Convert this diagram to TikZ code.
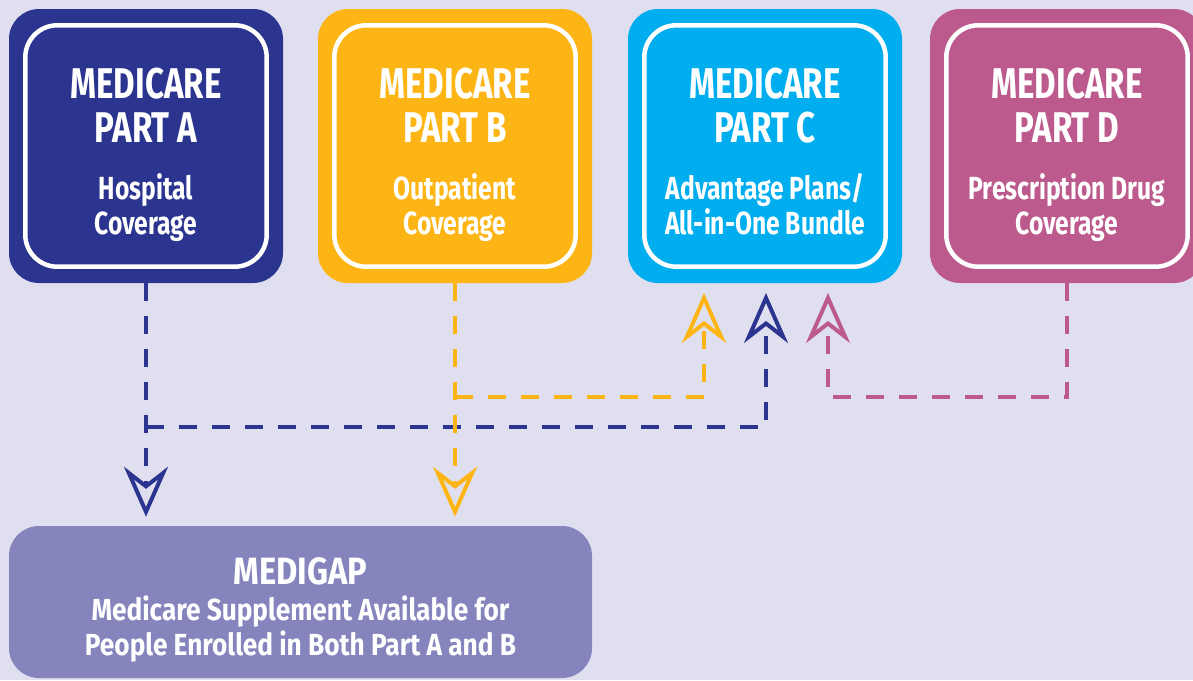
\documentclass[tikz,border=0pt]{standalone}
\usepackage{fontspec}
\setmainfont{Fira Sans}[FakeStretch=0.77]
\newfontfamily\gapfont{Fira Sans}[FakeStretch=0.86]
\usetikzlibrary{arrows.meta}

\definecolor{bgcol}{HTML}{E0DFEF}
\definecolor{colA}{HTML}{2B3590}
\definecolor{colB}{HTML}{FDB515}
\definecolor{colC}{HTML}{00AEEF}
\definecolor{colD}{HTML}{BD5A8D}
\definecolor{colGap}{HTML}{8584BD}

\tikzset{
	part/.style={fill=#1, rounded corners=30pt, minimum width=274pt, minimum height=274pt, inner sep=0pt},
	frame/.style={draw=white, line width=4.5pt, rounded corners=32pt},
	title/.style={text=white, align=center, inner sep=0pt, anchor=north, font=\bfseries\fontsize{43}{44}\selectfont},
	subtitle/.style={text=white, align=center, inner sep=0pt, anchor=north, font=\bfseries\fontsize{32}{35}\selectfont},
	link/.style={draw=#1, line width=4pt, dash pattern=on 18pt off 15pt,
		-{Stealth[open, length=50pt, width=44pt, inset=17pt]}},
}

\begin{document}
\begin{tikzpicture}[x=1pt, y=-1pt]
	%%%%% START %%%%%
	
	\useasboundingbox (0, 0) rectangle (1193, 680);
	\clip (0, 0) rectangle (1193, 680);
	\fill[bgcol] (0, 0) rectangle (1193, 680);
	
	% the four parts
	\node[part=colA] (A) at (146, 146) {};
	\node[part=colB] (B) at (455, 146) {};
	\node[part=colC] (C) at (765, 146) {};
	\node[part=colD] (D) at (1067, 146) {};
	\foreach \p in {A, B, C, D}
		\draw[frame] ([shift={(16.5, 16.5)}]\p.north west) rectangle ([shift={(-16.5, -16.5)}]\p.south east);
	
	\node[title] (Atitle) at (146, 68) {MEDICARE\\PART A};
	\node[subtitle] (Asub) at (146, 173.5) {Hospital\\Coverage};
	
	\node[title] (Btitle) at (455, 68) {MEDICARE\\PART B};
	\node[subtitle] (Bsub) at (455, 173.5) {Outpatient\\Coverage};
	
	\node[title] (Ctitle) at (765, 68) {MEDICARE\\PART C};
	\node[subtitle] (Csub) at (765, 173.5) {Advantage Plans/\\All-in-One Bundle};
	
	\node[title] (Dtitle) at (1067, 68) {MEDICARE\\PART D};
	\node[subtitle] (Dsub) at (1067, 173.5) {Prescription Drug\\Coverage};
	
	% medigap
	\node[part=colGap, minimum width=583pt, minimum height=152pt] (gap) at (300.5, 602) {};
	\node[title, font=\gapfont\bfseries\fontsize{38}{40}\selectfont] (gaptitle) at (300.5, 557) {MEDIGAP};
	\node[subtitle, font=\gapfont\bfseries\fontsize{30.5}{35}\selectfont] (gapsub) at (300.5, 595.5) {Medicare Supplement Available for\\People Enrolled in Both Part A and B};
	
	% ends and bends of the links
	\coordinate (Ajoin) at (146, 427);
	\coordinate (Bjoin) at (455, 397);
	\coordinate (Dturn) at (828, 397);
	\coordinate (CinA) at (766, 283);
	\coordinate (CinB) at (704, 283);
	\coordinate (CinD) at (828, 283);
	
	\draw[link=colB] (Bjoin) -| ([yshift=-10pt]CinB);
	\draw[link=colA] (Ajoin) -| ([yshift=-10pt]CinA);
	\draw[link=colD] (D.south) |- (Dturn) -- ([yshift=-10pt]CinD);
	
	\draw[link=colA] (A.south) -- ([yshift=9pt]A.south |- gap.north);
	\draw[link=colB] (B.south) -- ([yshift=9pt]B.south |- gap.north);
	
	%%%%% END %%%%%
\end{tikzpicture}
\end{document}
